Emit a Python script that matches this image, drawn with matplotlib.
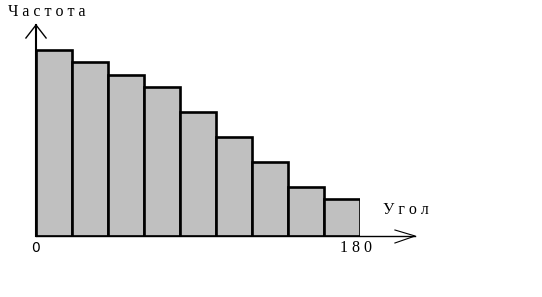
import matplotlib
matplotlib.use('Agg')
import matplotlib.pyplot as plt

# histogram of angles: 9 bins of 20 degrees from 0 to 180
bin_left = [0, 20, 40, 60, 80, 100, 120, 140, 160]
freq = [186, 174, 161, 149, 124, 99, 74, 49, 37]
x_label = 'Угол'
y_label = 'Частота'
tick_labels = ['0', '180']

W, H = 542, 297
fig = plt.figure(figsize=(W / 100, H / 100), dpi=100)
# axes box: x 0..180 -> px 36..360, y 0..210 -> px 236..26
ax = fig.add_axes([36 / W, 61 / H, 324 / W, 210 / H])
ax.set_xlim(0, 180)
ax.set_ylim(0, 210)
ax.axis('off')

ax.bar(bin_left, freq, width=20, align='edge', color='#c0c0c0',
       edgecolor='black', linewidth=1.9, zorder=2)

# y axis with arrow
ax.plot([0, 0], [0, 211], color='black', lw=1.5, clip_on=False, zorder=3)
ax.plot([-5.6, 0, 5.6], [198, 211, 198], color='black', lw=1.0, clip_on=False)
# x axis with arrow
ax.plot([0, 210.6], [0, 0], color='black', lw=1.0, clip_on=False, zorder=3)
ax.plot([199.4, 210.6, 199.4], [6, 0, -7], color='black', lw=0.8, clip_on=False)

serif = 'Liberation Serif'
fig.text(8 / W, 1 - 12 / H, ' '.join(y_label), family=serif, fontsize=11.5,
         ha='left', va='center')
fig.text(383 / W, 1 - 210 / H, ' '.join(x_label), family=serif, fontsize=11.5,
         ha='left', va='center')
ax.text(0, -12, tick_labels[0], family='DejaVu Sans', fontsize=10,
        ha='center', va='center')
ax.text(178, -12, ' '.join(tick_labels[1]), family=serif, fontsize=11.5,
        ha='center', va='center')

fig.savefig('out.png', dpi=100)
